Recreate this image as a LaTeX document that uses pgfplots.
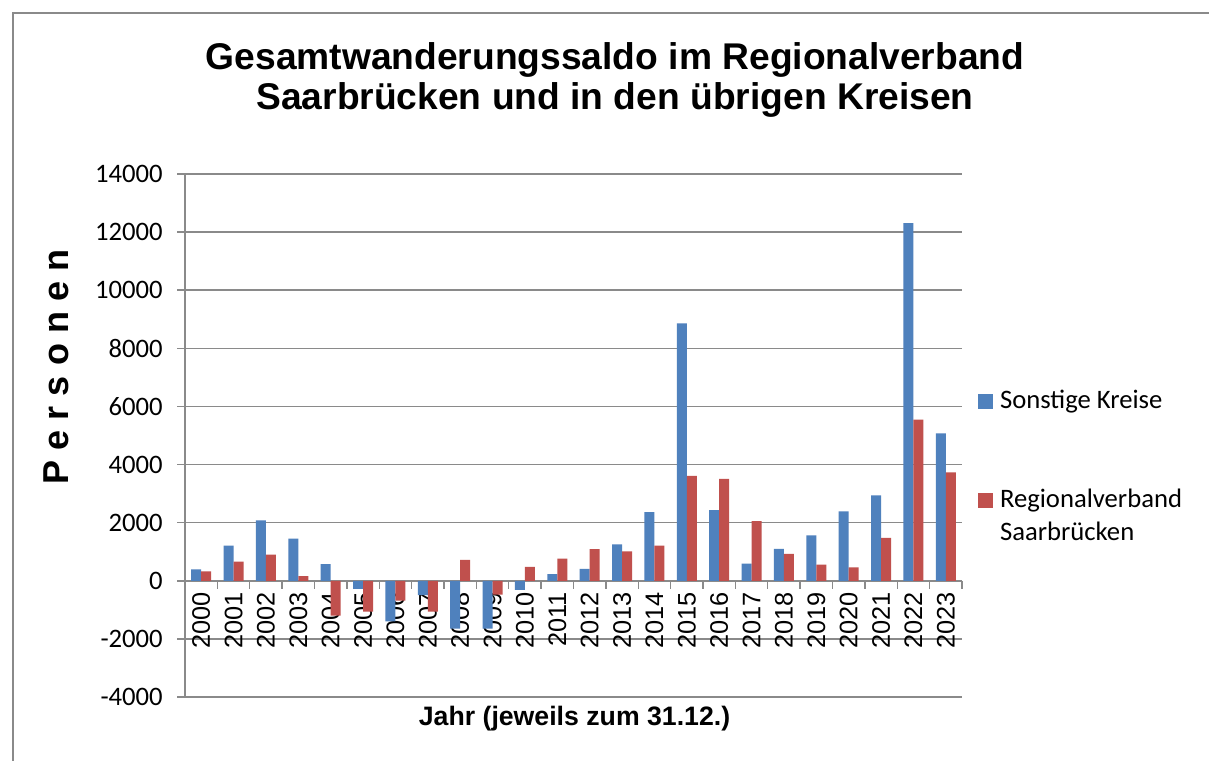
\documentclass[border=0pt]{standalone}
\usepackage{pgfplots}
\pgfplotsset{compat=1.18}
\usepackage{fontspec}
\setmainfont{Liberation Sans}
\newfontfamily\calibri{Carlito}
\definecolor{exblue}{HTML}{4F81BD}
\definecolor{exred}{HTML}{C0504D}
\definecolor{gridgray}{HTML}{8A8A8A}
\pgfplotsset{ybar legend/.style={legend image code/.code={\fill[##1,draw=none] (0pt,-5.6pt) rectangle (11.25pt,5.6pt);}}}
\begin{document}
\begin{tikzpicture}
\useasboundingbox (0,0) rectangle (906.75pt,570pt);
\fill[white] (0,0) rectangle (906.75pt,570pt);
\draw[gridgray, line width=1.1pt] (9.75pt,-20pt) -- (9.75pt,560.25pt) -- (930pt,560.25pt);
\node[anchor=base, font=\bfseries\fontsize{27.9}{32}\selectfont] at (461.25pt,517.5pt) {Gesamtwanderungssaldo im Regionalverband};
\node[anchor=base, font=\bfseries\fontsize{27.9}{32}\selectfont] at (461.25pt,487.5pt) {Saarbrücken und in den übrigen Kreisen};
\node[anchor=base, rotate=90, font=\bfseries\fontsize{27}{30}\selectfont] at (51pt,294.75pt) {P\hspace{7.6pt}e\hspace{7.6pt}r\hspace{7.6pt}s\hspace{7.6pt}o\hspace{7.6pt}n\hspace{7.6pt}e\hspace{7.6pt}n};
\node[anchor=base, font=\bfseries\fontsize{20}{24}\selectfont] at (430.9pt,26.25pt) {Jahr (jeweils zum 31.12.)};
\begin{axis}[
  at={(138.75pt,47.25pt)}, anchor=south west,
  scale only axis, width=582.75pt, height=392.25pt,
  /pgf/number format/assume math mode=true,
  ybar=0pt, bar width=7.5pt,
  xmin=-0.5, xmax=23.5, ymin=-4000, ymax=14000,
  ytick={-4000,-2000,...,14000},
  yticklabel style={font=\calibri\fontsize{20}{24}\selectfont, inner sep=0pt},
  yticklabel shift=10.5pt,
  scaled y ticks=false,
  /pgf/number format/.cd, 1000 sep={}, /pgfplots/.cd,
  xtick={-0.5,0.5,...,23.5},
  x tick label as interval,
  hide obscured x ticks=false,
  xticklabels={2000,2001,2002,2003,2004,2005,2006,2007,2008,2009,2010,2011,2012,2013,2014,2015,2016,2017,2018,2019,2020,2021,2022,2023},
  xticklabel style={rotate=90, anchor=east, inner sep=0pt, font=\fontsize{19}{21}\selectfont},
  xticklabel shift=2.5pt,
  axis x line=middle, axis y line=left,
  axis line style={gridgray, line width=1.1pt, -},
  tick align=outside, major tick length=6pt,
  tick style={gridgray, line width=1.1pt},
  ymajorgrids, grid style={gridgray, line width=1.1pt},
  legend cell align=left,
  legend style={at={(1.0206,0.590)}, anchor=north west, draw=none, fill=none,
    inner sep=0pt, outer sep=0pt, row sep=4.75pt,
    font=\calibri\fontsize{20}{24}\selectfont,
    nodes={inner sep=0pt, text height=15pt, text depth=5pt},
    /tikz/every odd column/.append style={column sep=5.25pt}},
  clip=false,
]
\addplot[fill=exblue, draw=none] coordinates {
(0,390) (1,1210) (2,2080) (3,1450) (4,570) (5,-280) (6,-1400) (7,-490) (8,-1650) (9,-1650) (10,-310) (11,230)
(12,410) (13,1250) (14,2360) (15,8860) (16,2430) (17,590) (18,1100) (19,1560) (20,2390) (21,2940) (22,12310) (23,5070)};
\addlegendentry{Sonstige Kreise}
\addlegendimage{empty legend}\addlegendentry{}
\addlegendimage{empty legend}\addlegendentry{}
\addplot[fill=exred, draw=none] coordinates {
(0,320) (1,660) (2,900) (3,160) (4,-1200) (5,-1060) (6,-680) (7,-1060) (8,720) (9,-480) (10,480) (11,760)
(12,1090) (13,1010) (14,1210) (15,3610) (16,3510) (17,2050) (18,930) (19,560) (20,460) (21,1480) (22,5550) (23,3730)};
\addlegendentry{Regionalverband}
\addlegendimage{empty legend}\addlegendentry{Saarbrücken}
\end{axis}
\end{tikzpicture}
\end{document}
